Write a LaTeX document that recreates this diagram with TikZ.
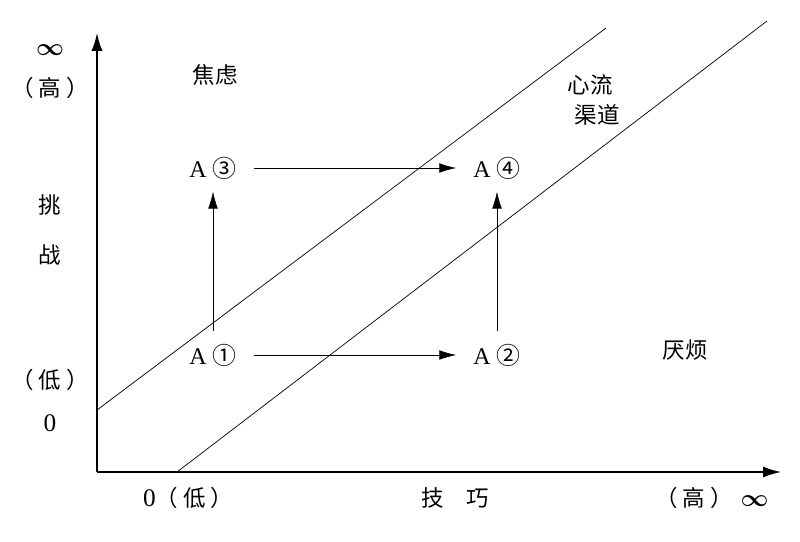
\documentclass[tikz,border=0pt]{standalone}
\usepackage{amsmath}
\usepackage{fontspec}
\usepackage{tikz}
\usetikzlibrary{arrows.meta}
\setmainfont{Liberation Serif}
\newfontfamily\cjk{Noto Sans CJK SC}
\newcommand{\pa}[1]{（\hspace{0.12cm}#1\hspace{0.12cm}）}
\tikzstyle{texto}=[inner sep=0pt,font=\fontsize{16}{19}\selectfont\cjk]
\tikzstyle{estado}=[inner xsep=0.42cm,inner ysep=0.3cm,font=\fontsize{17}{20}\selectfont]
\tikzstyle{paso}=[thin,-{Latex[length=0.42cm,width=0.24cm]}]

\begin{document}
\begin{tikzpicture}[thick]
    \useasboundingbox (0,0) rectangle (20,13.525);
    \coordinate (O) at (2.425,1.725);
    \coordinate (Y) at (2.425,12.7);
    \coordinate (X) at (19.525,1.725);
    \coordinate (s1) at (2.425,3.275);
    \coordinate (s2) at (15.15,12.825);
    \coordinate (t1) at (4.425,1.725);
    \coordinate (t2) at (19.175,13.0);
    % ejes
    \draw [line width=1.3pt,-{Latex[length=0.45cm,width=0.28cm]}] (O) -- (Y);
    \draw [line width=1.3pt,-{Latex[length=0.45cm,width=0.28cm]}] (O) -- (X);
    % canal
    \draw [line width=0.5pt] (s1) -- (s2);
    \draw [line width=0.5pt] (t1) -- (t2);
    % rotulos del eje vertical
    \node [texto] (inf) at (1.25,12.275) {$\boldsymbol{\infty}$};
    \node [texto] (alto) at (1.25,11.325) {\pa{高}};
    \node [texto] (ti) at (1.25,8.4) {挑};
    \node [texto] (zhan) at (1.25,7.15) {战};
    \node [texto] (bajo) at (1.25,4.025) {\pa{低}};
    \node [texto,font=\fontsize{18}{20}\selectfont] (cero) at (1.25,2.95) {0};
    % rotulos del eje horizontal
    \node [texto] (xbajo) at (4.7,1.075) {{\rmfamily\fontsize{18}{20}\selectfont 0}\pa{低}};
    \node [texto] (tec) at (11.375,1.075) {技\hspace{0.55cm}巧};
    \node [texto] (xalto) at (17.8,1.075) {\pa{高}\hspace{0.2cm}$\boldsymbol{\infty}$};
    % zonas
    \node [texto] (ans) at (5.375,11.65) {焦虑};
    \node [texto] (flujo) at (14.75,11.4) {心流};
    \node [texto] (canal) at (14.925,10.65) {渠道};
    \node [texto] (abur) at (17.125,4.775) {厌烦};
    % estados
    \node [estado] (a1) at (5.325,4.65) {A {\cjk ①}};
    \node [estado] (a2) at (12.425,4.65) {A {\cjk ②}};
    \node [estado] (a3) at (5.325,9.325) {A {\cjk ③}};
    \node [estado] (a4) at (12.425,9.325) {A {\cjk ④}};
    \draw [paso] (a1) -- (a2);
    \draw [paso] (a3) -- (a4);
    \draw [paso] (a1.north) -- (a3.south);
    \draw [paso] (a2.north) -- (a4.south);
\end{tikzpicture}
\end{document}
